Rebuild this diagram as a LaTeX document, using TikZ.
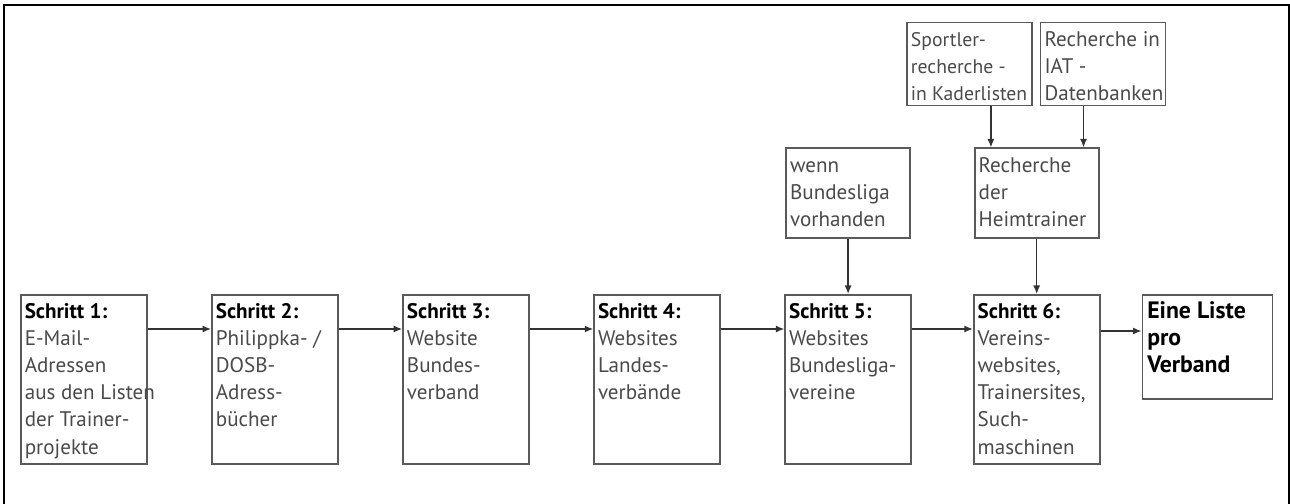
\documentclass[tikz,border=0pt]{standalone}
\usepackage{fontspec}
\setmainfont{PT Sans}
\usetikzlibrary{arrows.meta, positioning}

\definecolor{boxgray}{HTML}{5A5A5A}
\definecolor{txtgray}{HTML}{4A4A4A}

% fixed size text block, top aligned
\newcommand{\boxtext}[3]{\parbox[t][#2][t]{#1}{\raggedright\strut #3}}

\begin{document}
\begin{tikzpicture}[
    ->,
    >={Latex[length=0.17cm,width=0.14cm]},
    line width=0.75pt,
    draw=black!80,
    stepbox/.style={draw=boxgray, line width=0.9pt, inner xsep=0.08cm,
        inner ysep=0.1cm, text=txtgray,
        font=\fontsize{12}{15.4}\selectfont},
    endbox/.style={stepbox, inner xsep=0.1cm, text=black, font=\fontsize{13.5}{15.4}\selectfont\bfseries},
    node distance=1.27cm,
]

    \useasboundingbox (0,0) rectangle (25.8,-10.08);
    \draw[-, line width=1.2pt, black] (0.08,-10.08) -- (0.08,-0.1) -- (25.78,-0.1) -- (25.78,-10.08);

    \node[stepbox, anchor=north west] (s1) at (0.4,-5.88)
        {\boxtext{2.36cm}{3.18cm}{\textcolor{black}{\bfseries Schritt 1:}\\E-Mail-\\Adressen\\\mbox{aus den Listen}\\der Trainer-\\projekte}};
    \node[stepbox, right=of s1] (s2)
        {\boxtext{2.36cm}{3.18cm}{\textcolor{black}{\bfseries Schritt 2:}\\Philippka- /\\DOSB-\\Adress-\\bücher}};
    \node[stepbox, right=of s2] (s3)
        {\boxtext{2.36cm}{3.18cm}{\textcolor{black}{\bfseries Schritt 3:}\\Website\\Bundes-\\verband}};
    \node[stepbox, right=of s3] (s4)
        {\boxtext{2.36cm}{3.18cm}{\textcolor{black}{\bfseries Schritt 4:}\\Websites\\Landes-\\verbände}};
    \node[stepbox, right=of s4] (s5)
        {\boxtext{2.36cm}{3.18cm}{\textcolor{black}{\bfseries Schritt 5:}\\Websites\\Bundesliga-\\vereine}};
    \node[stepbox, right=1.22cm of s5] (s6)
        {\boxtext{2.36cm}{3.18cm}{\textcolor{black}{\bfseries Schritt 6:}\\Vereins-\\websites,\\Trainersites,\\Such-\\maschinen}};
    \node[endbox, right=0.82cm of s6.north east, anchor=north west] (liste)
        {\boxtext{2.40cm}{1.88cm}{Eine Liste\\pro\\Verband}};

    \node[stepbox, above=1.1cm of s5] (liga)
        {\boxtext{2.32cm}{1.6cm}{wenn\\Bundesliga\\vorhanden}};
    \node[stepbox, above=1.1cm of s6] (heim)
        {\boxtext{2.32cm}{1.6cm}{Recherche\\der\\Heimtrainer}};
    \node[stepbox, font=\fontsize{11.2}{15.4}\selectfont,
          above left=0.82cm and 0.08cm of heim.north] (kader)
        {\boxtext{2.34cm}{1.46cm}{Sportler-\\recherche -\\\mbox{in Kaderlisten}}};
    \node[stepbox, above right=0.82cm and 0.06cm of heim.north] (iat)
        {\boxtext{2.34cm}{1.46cm}{Recherche in\\IAT -\\Datenbanken}};

    \path
        ([yshift=-0.7cm]s1.north east) edge ([yshift=-0.7cm]s2.north west)
        ([yshift=-0.7cm]s2.north east) edge ([yshift=-0.7cm]s3.north west)
        ([yshift=-0.7cm]s3.north east) edge ([yshift=-0.7cm]s4.north west)
        ([yshift=-0.7cm]s4.north east) edge ([yshift=-0.7cm]s5.north west)
        ([yshift=-0.7cm]s5.north east) edge ([yshift=-0.7cm]s6.north west)
        ([yshift=-0.74cm]s6.north east) edge ([yshift=-0.74cm]liste.north west)
        (liga) edge (s5)
        (heim) edge (s6)
        ([xshift=0.34cm]heim.north west |- kader.south) edge ([xshift=0.34cm]heim.north west)
        ([xshift=-0.32cm]heim.north east |- iat.south) edge ([xshift=-0.32cm]heim.north east)
    ;
\end{tikzpicture}
\end{document}
